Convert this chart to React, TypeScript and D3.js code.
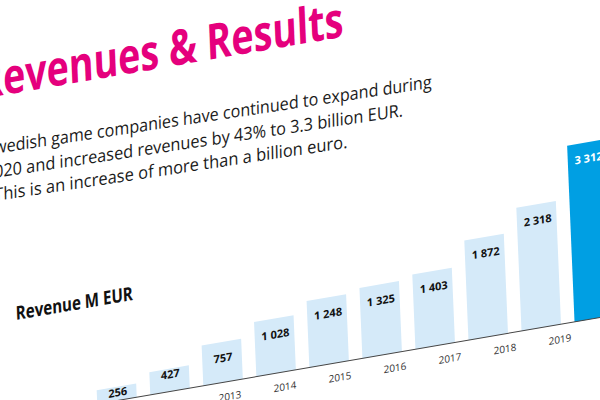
import React from "react";
import * as d3 from "d3";

const years = ["2011", "2012", "2013", "2014", "2015", "2016", "2017", "2018", "2019", "2020"];
const revenue = [256, 427, 757, 1028, 1248, 1325, 1403, 1872, 2318, 3312];
const valueLabels = ["256", "427", "757", "1 028", "1 248", "1 325", "1 403", "1 872", "2 318", "3 312"];
const titleText = "Revenues & Results";
const paragraphLines = [
  "Swedish game companies have continued to expand during",
  "2020 and increased revenues by 43% to 3.3 billion EUR.",
  "This is an increase of more than a billion euro.",
];
const axisTitle = "Revenue M EUR";
const highlightYear = "2020";

const W = 600;
const H = 400;

export default function App() {
  const x = d3.scaleBand<string>().domain(years).range([79.7, 596.5]).paddingInner(0.255).paddingOuter(0);
  const labelX = d3.scalePoint<string>().domain(years).range([101.8, 101.8 + 9 * 55]);
  const y = d3.scaleLinear().domain([0, 3500]).range([417.7, 417.7 - 3500 * 0.0532]);
  const base = y(0);

  const paraX = [-21, -22, -13];
  const paraLen = [446, 418, 353];
  const paraY = [152, 176, 199];

  return (
    <svg
      width={W}
      height={H}
      style={{ position: "absolute", left: 0, top: 0, background: "#fff" }}
    >
      <rect width={W} height={H} fill="#fff" />
      <g transform="matrix(1 -0.172 0.042 1 0 0)">
        <text
          x={-25}
          y={95}
          textLength={365}
          lengthAdjust="spacingAndGlyphs"
          fontFamily="'Open Sans', sans-serif"
          fontWeight={700}
          fontSize={49}
          fill="#e5007d"
        >
          {titleText}
        </text>
        <g transform="rotate(1.2, 0, 150)">
          {paragraphLines.map((t, i) => (
            <text
              key={i}
              x={paraX[i]}
              y={paraY[i]}
              textLength={paraLen[i]}
              lengthAdjust="spacingAndGlyphs"
              fontFamily="'Open Sans', sans-serif"
              fontWeight={500}
              fontSize={17.5}
              fill="#1a1a1a"
            >
              {t}
            </text>
          ))}
        </g>
        <text
          x={2.6}
          y={320.5}
          textLength={117}
          lengthAdjust="spacingAndGlyphs"
          fontFamily="'Open Sans', sans-serif"
          fontWeight={700}
          fontSize={19}
          fill="#111"
        >
          {axisTitle}
        </text>
        {years.map((yr, i) => (
          <rect
            key={yr}
            x={x(yr)}
            y={y(revenue[i])}
            width={x.bandwidth()}
            height={base - y(revenue[i])}
            fill={yr === highlightYear ? "#009fe3" : "#d5eaf9"}
          />
        ))}
        <line x1={-40} x2={680} y1={base} y2={base} stroke="#444" strokeWidth={1} />
        {years.map((yr, i) => {
          const top = y(revenue[i]);
          const h = base - top;
          return (
            <text
              key={yr}
              x={(x(yr) as number) + x.bandwidth() / 2 + 1}
              y={top + (h > 30 ? 20 : 9.5)}
              textAnchor="middle"
              fontFamily="'Open Sans', sans-serif"
              fontWeight={700}
              fontSize={11}
              fill={yr === highlightYear ? "#fff" : "#111"}
            >
              {valueLabels[i]}
            </text>
          );
        })}
        {years.map((yr) => (
          <text
            key={yr}
            x={labelX(yr)}
            y={base + 18.5}
            textAnchor="middle"
            fontFamily="'Open Sans', sans-serif"
            fontSize={10}
            fill="#333"
          >
            {yr}
          </text>
        ))}
      </g>
    </svg>
  );
}
